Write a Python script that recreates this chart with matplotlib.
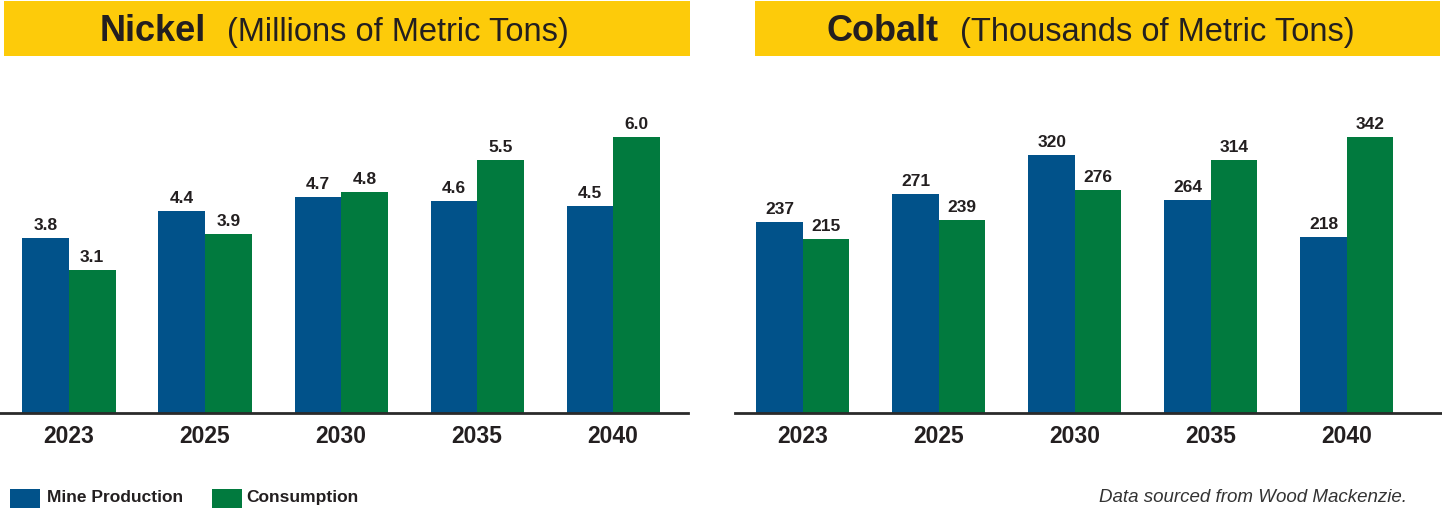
import matplotlib
matplotlib.use("Agg")
import matplotlib.pyplot as plt
from matplotlib.patches import Rectangle
import numpy as np

years = ["2023", "2025", "2030", "2035", "2040"]
nickel_mine = [3.8, 4.4, 4.7, 4.6, 4.5]
nickel_cons = [3.1, 3.9, 4.8, 5.5, 6.0]
cobalt_mine = [237, 271, 320, 264, 218]
cobalt_cons = [215, 239, 276, 314, 342]

BLUE = "#01528A"
GREEN = "#017A3E"
YELLOW = "#FDCB0A"
DARK = "#231F20"
FONT = "Liberation Sans"

W, H = 1442, 510
fig = plt.figure(figsize=(W / 100, H / 100), dpi=100)
fig.patch.set_facecolor("white")


def px_axes(x0, x1, ytop, ybot):
    return fig.add_axes([x0 / W, 1 - ybot / H, (x1 - x0) / W, (ybot - ytop) / H])


def draw(ax, mine, cons, fmt, xlim, ylim):
    x = np.arange(len(years))
    w = 0.342
    b1 = ax.bar(x - w / 2, mine, w, color=BLUE, linewidth=0)
    b2 = ax.bar(x + w / 2, cons, w, color=GREEN, linewidth=0)
    for bars, vals in ((b1, mine), (b2, cons)):
        for r, v in zip(bars, vals):
            ax.annotate(fmt(v), (r.get_x() + r.get_width() / 2, v),
                        xytext=(0, 6.5), textcoords="offset points",
                        ha="center", va="baseline", fontsize=12.5,
                        fontweight="bold", color=DARK, family=FONT)
    ax.set_xlim(*xlim)
    ax.set_ylim(*ylim)
    ax.set_xticks(x)
    ax.set_xticklabels(years, fontsize=16.5, fontweight="bold", color=DARK,
                       family=FONT)
    ax.tick_params(axis="x", length=0, pad=8)
    ax.set_yticks([])
    for s in ("top", "right", "left"):
        ax.spines[s].set_visible(False)
    ax.spines["bottom"].set_color("#2a2a2a")
    ax.spines["bottom"].set_linewidth(2)
    ax.set_facecolor("none")


ax1 = px_axes(0, 688, 100, 414)
draw(ax1, nickel_mine, nickel_cons, lambda v: f"{v:.1f}",
     (-0.507, 4.55), (0, 314 / 46.0))
ax2 = px_axes(735, 1442, 100, 414)
draw(ax2, cobalt_mine, cobalt_cons, lambda v: f"{v:d}",
     (-0.5, 4.70), (0, 314 / 0.807))

# title boxes
for x0, x1 in ((4, 690), (755, 1440)):
    fig.patches.append(Rectangle((x0 / W, 1 - 57 / H), (x1 - x0) / W, 55 / H,
                                 transform=fig.transFigure, facecolor=YELLOW,
                                 edgecolor="none", zorder=0))

base = 1 - 41 / H
fig.text(100 / W, base, "Nickel", fontsize=26, fontweight="bold",
         color=DARK, va="baseline", ha="left", family=FONT)
fig.text(227 / W, base, "(Millions of Metric Tons)", fontsize=23.5,
         color=DARK, va="baseline", ha="left", family=FONT)
fig.text(826 / W, base, "Cobalt", fontsize=26, fontweight="bold",
         color=DARK, va="baseline", ha="left", family=FONT)
fig.text(960 / W, base, "(Thousands of Metric Tons)", fontsize=23.5,
         color=DARK, va="baseline", ha="left", family=FONT)

# legend
fig.patches.append(Rectangle((10 / W, 1 - 509 / H), 30 / W, 19 / H,
                             transform=fig.transFigure, facecolor=BLUE,
                             edgecolor="none"))
fig.patches.append(Rectangle((212 / W, 1 - 509 / H), 30 / W, 19 / H,
                             transform=fig.transFigure, facecolor=GREEN,
                             edgecolor="none"))
fig.text(47 / W, 1 - 498 / H, "Mine Production", fontsize=12.5,
         fontweight="bold", color=DARK, va="center", ha="left", family=FONT)
fig.text(246 / W, 1 - 498 / H, "Consumption", fontsize=12.5,
         fontweight="bold", color=DARK, va="center", ha="left", family=FONT)
fig.text(1407 / W, 1 - 498 / H, "Data sourced from Wood Mackenzie.",
         fontsize=13.5, style="italic", color="#333333", va="center",
         ha="right", family=FONT)

fig.savefig("out.png", dpi=100)
